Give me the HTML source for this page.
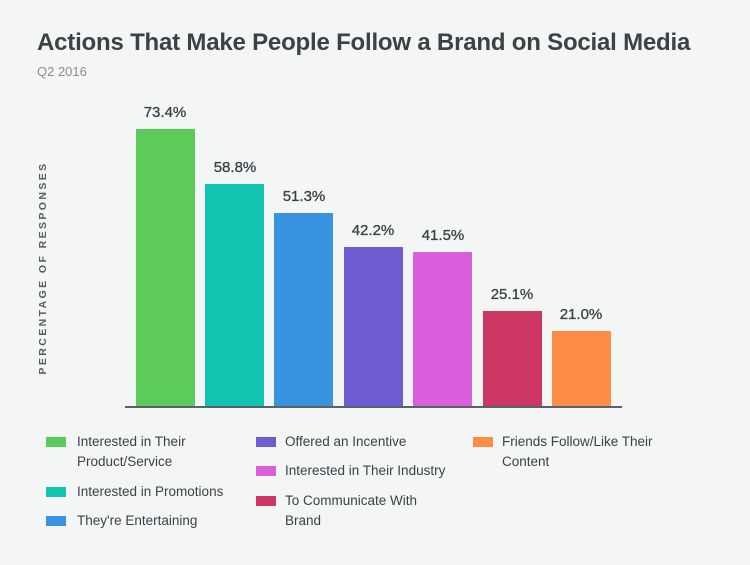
<!DOCTYPE html>
<html><head><style>
body{margin:0;width:750px;height:565px;background:#f4f5f5;font-family:"Liberation Sans",sans-serif;position:relative;overflow:hidden;color:#3b4247}
.t{position:absolute;left:37px;top:29px;font-size:24px;font-weight:bold;letter-spacing:-0.2px}
.s{position:absolute;left:37px;top:64px;font-size:13px;color:#8a8f92}
.y{position:absolute;left:43px;top:268px;transform:translate(-50%,-50%) rotate(-90deg);font-size:10.5px;font-weight:bold;letter-spacing:2.4px;color:#555c60;white-space:nowrap}
.b{position:absolute;width:59px}
.v{position:absolute;width:80px;text-align:center;font-size:15px;color:#3b4247;-webkit-text-stroke:0.3px #3b4247}
.ax{position:absolute;left:125px;top:406px;width:497px;height:2px;background:#5b6266}
.l{position:absolute;font-size:13.5px;line-height:20px;color:#3b4247}
.sq{position:absolute;width:20px;height:10px}
</style></head><body>
<div class="t">Actions That Make People Follow a Brand on Social Media</div>
<div class="s">Q2 2016</div>
<div class="y">PERCENTAGE OF RESPONSES</div>
<div class="b" style="left:136px;top:129px;height:278px;background:#5dcb5a"></div>
<div class="b" style="left:205px;top:184px;height:223px;background:#11c4b2"></div>
<div class="b" style="left:274px;top:213px;height:194px;background:#3a93e0"></div>
<div class="b" style="left:344px;top:247px;height:160px;background:#6e5cd2"></div>
<div class="b" style="left:413px;top:252px;height:155px;background:#da5fdc"></div>
<div class="b" style="left:483px;top:311px;height:96px;background:#cd3764"></div>
<div class="b" style="left:552px;top:331px;height:76px;background:#fd8d46"></div>
<div class="v" style="left:125px;top:104px">73.4%</div>
<div class="v" style="left:195px;top:159px">58.8%</div>
<div class="v" style="left:264px;top:188px">51.3%</div>
<div class="v" style="left:333px;top:222px">42.2%</div>
<div class="v" style="left:403px;top:227px">41.5%</div>
<div class="v" style="left:472px;top:286px">25.1%</div>
<div class="v" style="left:541px;top:306px">21.0%</div>
<div class="ax"></div>
<div class="sq" style="left:46px;top:437px;background:#5dcb5a"></div>
<div class="l" style="left:77px;top:432px">Interested in Their<br>Product/Service</div>
<div class="sq" style="left:46px;top:487px;background:#11c4b2"></div>
<div class="l" style="left:77px;top:482px">Interested in Promotions</div>
<div class="sq" style="left:46px;top:516px;background:#3a93e0"></div>
<div class="l" style="left:77px;top:511px">They're Entertaining</div>
<div class="sq" style="left:256px;top:437px;background:#6e5cd2"></div>
<div class="l" style="left:285px;top:432px">Offered an Incentive</div>
<div class="sq" style="left:256px;top:466px;background:#da5fdc"></div>
<div class="l" style="left:285px;top:461px">Interested in Their Industry</div>
<div class="sq" style="left:256px;top:496px;background:#cd3764"></div>
<div class="l" style="left:285px;top:491px">To Communicate With<br>Brand</div>
<div class="sq" style="left:473px;top:437px;background:#fd8d46"></div>
<div class="l" style="left:502px;top:432px">Friends Follow/Like Their<br>Content</div>
</body></html>
